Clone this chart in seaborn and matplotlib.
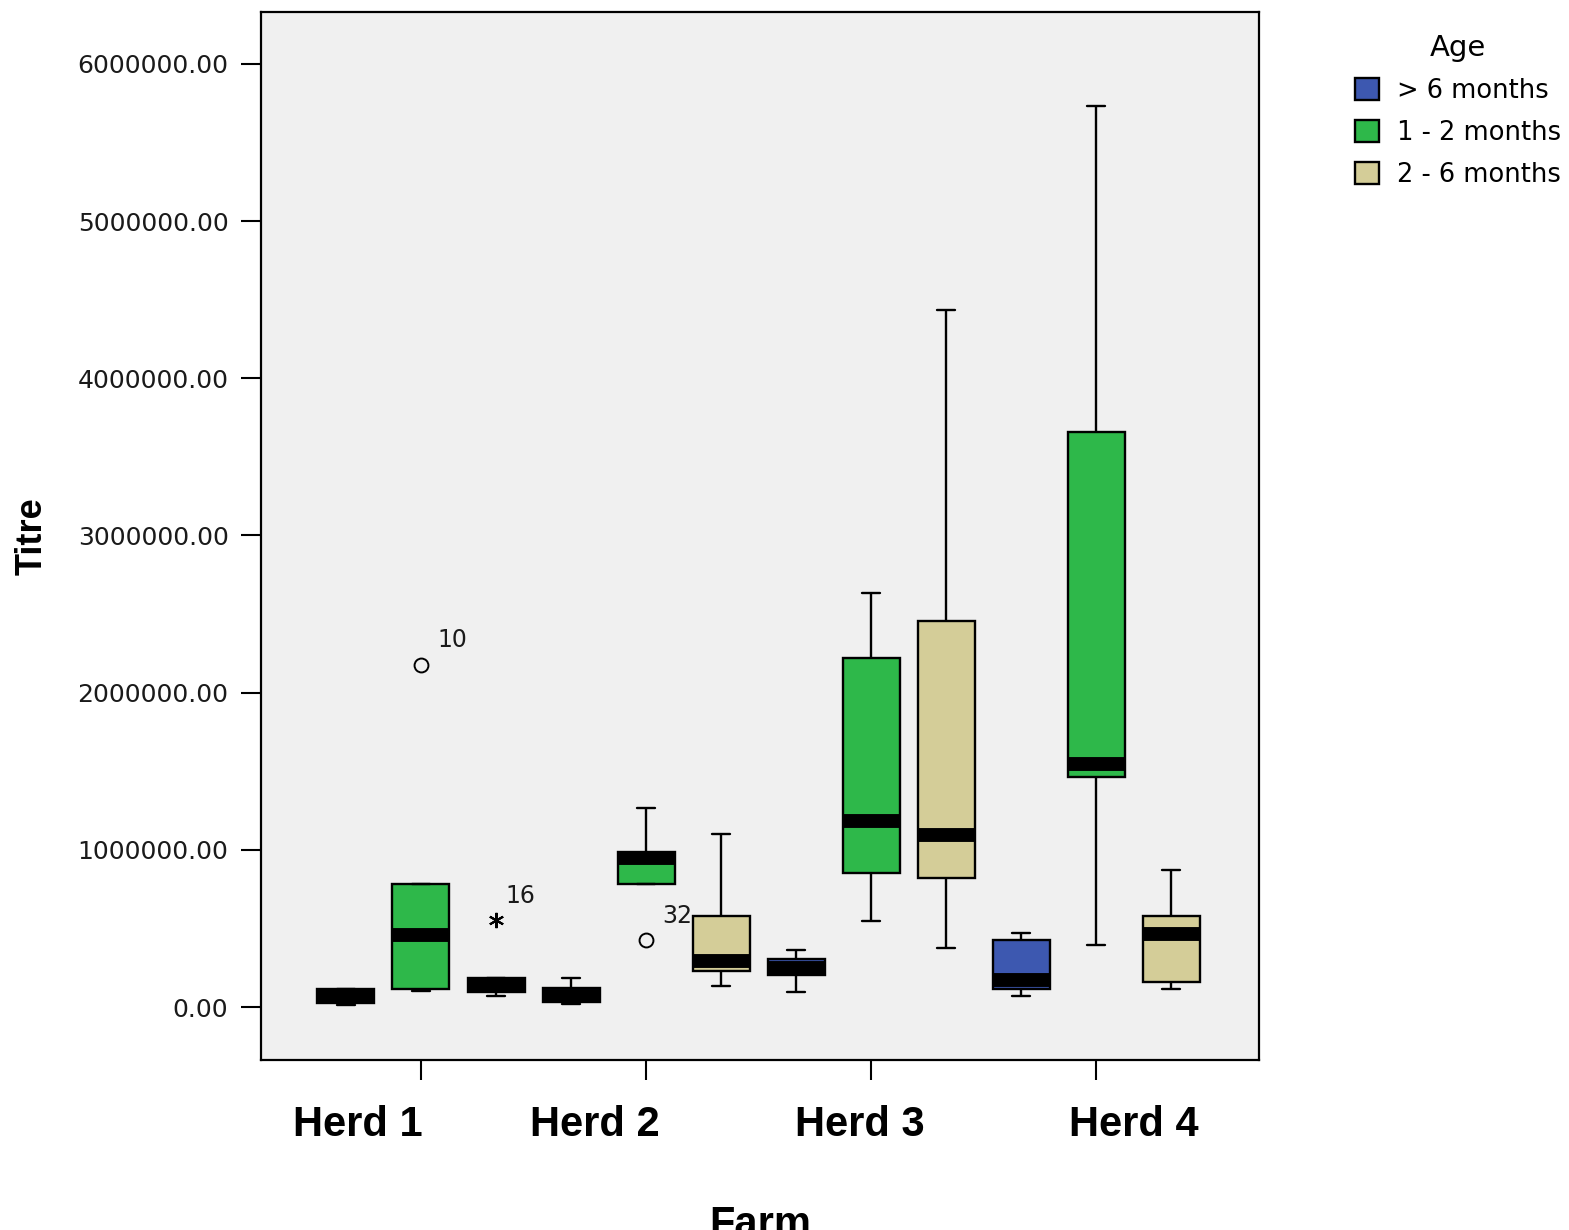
import numpy as np
import pandas as pd
import matplotlib
matplotlib.use("Agg")
import matplotlib.pyplot as plt
from matplotlib.transforms import ScaledTranslation
import seaborn as sns

# ---- data -------------------------------------------------------------
herds = ["Herd 1", "Herd 2", "Herd 3", "Herd 4"]
ages = ["> 6 months", "1 - 2 months", "2 - 6 months"]
age_colors = ["#3D58B0", "#2EB84A", "#D4CD98"]

# Box summaries for each farm / age group (titre)
group_herd = ["Herd 1", "Herd 1", "Herd 1",
              "Herd 2", "Herd 2", "Herd 2",
              "Herd 3", "Herd 3", "Herd 3",
              "Herd 4", "Herd 4", "Herd 4"]
group_age = ["> 6 months", "1 - 2 months", "2 - 6 months"] * 4
whisker_low = [15000, 100000, 70000,
               20000, 782000, 134000,
               95000, 547000, 375000,
               70000, 394000, 115000]
quartile_low = [25000, 115000, 95000,
                30000, 782000, 232000,
                204000, 852000, 821000,
                115000, 1463000, 159000]
medians = [70000, 461000, 140000,
           70000, 945000, 290000,
           250000, 1183000, 1094000,
           175000, 1543000, 464000]
quartile_high = [115000, 782000, 184000,
                 120000, 986000, 582000,
                 305000, 2220000, 2455000,
                 426000, 3658000, 579000]
whisker_high = [115000, 782000, 184000,
                184000, 1266000, 1100000,
                363000, 2634000, 4434000,
                470000, 5730000, 871000]

# Out-lying cases with their case numbers
outlier_herd = ["Herd 1", "Herd 1", "Herd 2"]
outlier_age = ["1 - 2 months", "2 - 6 months", "1 - 2 months"]
outlier_value = [2176000, 553000, 426000]
outlier_case = ["10", "16", "32"]
outlier_extreme = [False, True, False]

# ---- long-form table ---------------------------------------------------
rows = []
for h, a, lo, q1, md, q3, hi in zip(group_herd, group_age, whisker_low,
                                    quartile_low, medians, quartile_high,
                                    whisker_high):
    for v in (lo, q1, md, q3, hi):
        rows += [(h, a, v)] * 4
for h, a, v in zip(outlier_herd, outlier_age, outlier_value):
    rows.append((h, a, v))
df = pd.DataFrame(rows, columns=["Farm", "Age", "Titre"])

# ---- style -------------------------------------------------------------
sns.set_theme(style="ticks")
plt.rcParams["font.family"] = ["DejaVu Sans"]
plt.rcParams["axes.facecolor"] = "#F0F0F0"
plt.rcParams["axes.edgecolor"] = "black"
plt.rcParams["axes.linewidth"] = 1.6
plt.rcParams["text.color"] = "black"
plt.rcParams["axes.labelcolor"] = "black"
plt.rcParams["xtick.color"] = "black"
plt.rcParams["ytick.color"] = "black"

fig = plt.figure(figsize=(15.69, 12.30), dpi=100)
ax = fig.add_axes([261 / 1569, 1 - 1060 / 1230,
                   (1259 - 261) / 1569, (1060 - 12) / 1230])

sns.boxplot(data=df, x="Farm", y="Titre", hue="Age",
            order=herds, hue_order=ages, palette=age_colors,
            saturation=1, width=1.0, gap=0.24, whis=1.5,
            linecolor="black", linewidth=1.7,
            medianprops=dict(linewidth=10, solid_capstyle="butt"),
            flierprops=dict(marker="o", markersize=10,
                            markerfacecolor="none",
                            markeredgecolor="black",
                            markeredgewidth=1.4),
            capwidths=0.08, ax=ax)

# keep the thick median bands inside their boxes
for cont in ax.containers:
    for box, med in zip(cont.boxes, cont.medians):
        med.set_clip_path(box)

# outlier markers and case labels
label_offsets = [(12, 13), (7, 12.5), (11.5, 12.5)]
flier_lines = [fl for cont in ax.containers for fl in cont.fliers]
for value, case, extreme, (dx, dy) in zip(outlier_value, outlier_case,
                                          outlier_extreme, label_offsets):
    for fl in flier_lines:
        ys = np.asarray(fl.get_ydata(), dtype=float)
        hit = np.isclose(ys, value)
        if hit.any():
            x = np.asarray(fl.get_xdata(), dtype=float)[hit][0]
            if extreme:
                fl.set_marker((6, 2, 0))
                fl.set_markersize(11)
                fl.set_markeredgewidth(1.5)
            ax.annotate(case, (x, value), xytext=(dx, dy),
                        textcoords="offset points", ha="left", va="baseline",
                        fontsize=17, color="#1a1a1a")
            break

# ---- axes --------------------------------------------------------------
ax.set_xlim(-0.711, 3.724)
ax.set_ylim(-337000, 6330000)
yticks = [0, 1000000, 2000000, 3000000, 4000000, 5000000, 6000000]
ax.set_yticks(yticks)
ax.set_yticklabels([f"{t:.2f}" for t in yticks])
ax.tick_params(axis="y", length=14.4, width=1.5, pad=9,
               labelsize=18, labelcolor="#1a1a1a")
ax.tick_params(axis="x", length=14.4, width=1.5, pad=18)

ax.set_xticks(range(len(herds)))
ax.set_xticklabels(herds, fontsize=30, fontweight="bold",
                   family="Liberation Sans", color="black")
label_shift_px = [-63, -51, -11, 38]
for lab, dx in zip(ax.get_xticklabels(), label_shift_px):
    lab.set_transform(lab.get_transform() +
                      ScaledTranslation(dx / 100, 0, fig.dpi_scale_trans))

ax.set_xlabel("Farm", fontsize=30, fontweight="bold",
              family="Liberation Sans", labelpad=43, color="black")
ax.set_ylabel("Titre", fontsize=26, fontweight="bold",
              family="Liberation Sans", labelpad=20, color="black")

for side in ("top", "right", "left", "bottom"):
    ax.spines[side].set_visible(True)
    ax.spines[side].set_linewidth(1.6)

sns.move_legend(ax, "upper left",
                bbox_to_anchor=(1355 / 1569, 1 - 34 / 1230),
                bbox_transform=fig.transFigure,
                frameon=False, title="Age",
                fontsize=18.5, title_fontsize=21,
                handlelength=0.95, handleheight=0.95,
                handletextpad=0.7, labelspacing=0.62,
                borderpad=0, borderaxespad=0)

fig.savefig("out.png", dpi=100, facecolor="white")
